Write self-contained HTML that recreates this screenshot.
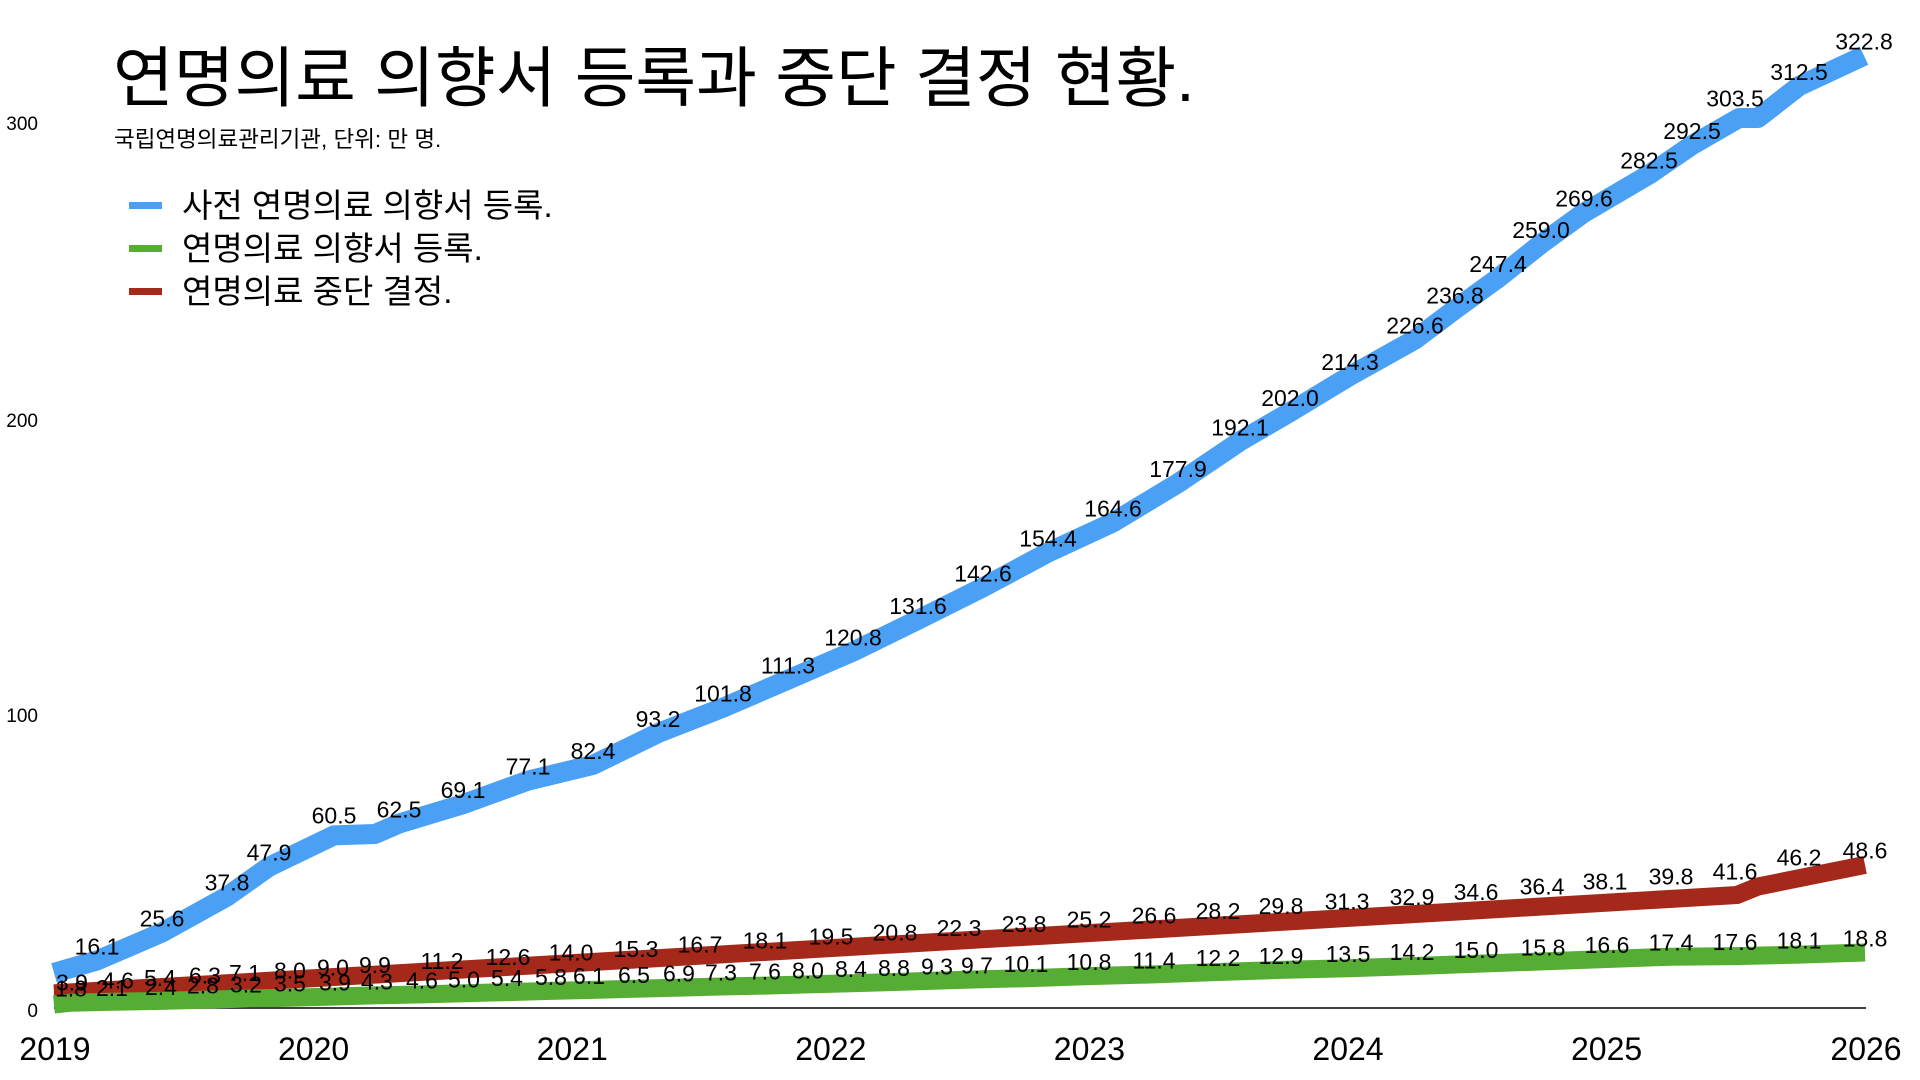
<!DOCTYPE html>
<html><head><meta charset="utf-8"><style>
html,body{margin:0;padding:0;background:#fff;}
svg{display:block;}
text{font-family:"Liberation Sans","Noto Sans CJK KR",sans-serif;fill:#000;}
</style></head><body>
<svg id="s" width="1920" height="1080" viewBox="0 0 1920 1080" xmlns="http://www.w3.org/2000/svg">
<text x="113" y="101" font-size="66">연명의료 의향서 등록과 중단 결정 현황.</text>
<text x="114" y="147" font-size="22.5">국립연명의료관리기관, 단위: 만 명.</text>
<rect x="129" y="202" width="33" height="7" fill="#4aa0f5"/>
<rect x="129" y="245" width="33" height="7" fill="#55ad33"/>
<rect x="129" y="288" width="33" height="7" fill="#a4291a"/>
<text x="182" y="217" font-size="33">사전 연명의료 의향서 등록.</text>
<text x="182" y="260" font-size="33">연명의료 의향서 등록.</text>
<text x="182" y="303" font-size="33">연명의료 중단 결정.</text>
<text x="38" y="130" font-size="19" text-anchor="end">300</text>
<text x="38" y="427" font-size="19" text-anchor="end">200</text>
<text x="38" y="722" font-size="19" text-anchor="end">100</text>
<text x="38" y="1017" font-size="19" text-anchor="end">0</text>
<line x1="54" y1="1008" x2="1866" y2="1008" stroke="#000" stroke-width="1.5"/>
<g id="g"></g>
</svg>
<script>
var Y=function(v){return 1008-v*2.95;};
var red=[[72,3.9],[118,4.6],[160,5.4],[205,6.3],[245,7.1],[290,8.0],[333,9.0],[375,9.9],[442,11.2],[508,12.6],[571,14.0],[636,15.3],[700,16.7],[765,18.1],[831,19.5],[895,20.8],[959,22.3],[1024,23.8],[1089,25.2],[1154,26.6],[1218,28.2],[1281,29.8],[1347,31.3],[1412,32.9],[1476,34.6],[1542,36.4],[1605,38.1],[1671,39.8],[1735,41.6],[1799,46.2],[1865,48.6]];
var green=[[71,1.8],[112,2.1],[161,2.4],[203,2.8],[246,3.2],[290,3.5],[335,3.9],[377,4.3],[422,4.6],[464,5.0],[507,5.4],[551,5.8],[589,6.1],[634,6.5],[679,6.9],[721,7.3],[765,7.6],[808,8.0],[851,8.4],[894,8.8],[937,9.3],[977,9.7],[1026,10.1],[1089,10.8],[1154,11.4],[1218,12.2],[1281,12.9],[1348,13.5],[1412,14.2],[1476,15.0],[1543,15.8],[1607,16.6],[1671,17.4],[1735,17.6],[1799,18.1],[1865,18.8]];
var blue=[[97,16.1],[162,25.6],[227,37.8],[269,47.9],[334,60.5],[399,62.5],[463,69.1],[528,77.1],[593,82.4],[658,93.2],[723,101.8],[788,111.3],[853,120.8],[918,131.6],[983,142.6],[1048,154.4],[1113,164.6],[1178,177.9],[1240,192.1],[1290,202.0],[1350,214.3],[1415,226.6],[1455,236.8],[1498,247.4],[1541,259.0],[1584,269.6],[1649,282.5],[1692,292.5],[1735,303.5],[1799,312.5],[1864,322.8]];
function poly(pts,color,w){
  return '<polyline fill="none" stroke="'+color+'" stroke-width="'+w+'" stroke-linejoin="round" points="'+pts.map(function(p){return p[0]+','+Y(p[1]).toFixed(1);}).join(' ')+'"/>';
}
function labels(data){
  return data.map(function(d){return '<text x="'+d[0]+'" y="'+(Y(d[1])-6).toFixed(1)+'" font-size="23" text-anchor="middle">'+d[1].toFixed(1)+'</text>';}).join('');
}
var redPts=[[54,5.0],[1281,29.2],[1737,38.3],[1758,41.2],[1865,48.5]];
var greenPts=[[54,1.2]].concat(green);
var bluePts=[[54,11.9]];
blue.forEach(function(d){
  if(d[0]==334){bluePts.push([334,58.5]);bluePts.push([375,59]);}
  else if(d[0]==1735){bluePts.push([1739,301.7]);bluePts.push([1758,301.7]);}
  else bluePts.push(d);
});
var h='';
h+=poly(redPts,'#a4291a',18);
h+=poly(greenPts,'#55ad33',18);
h+=poly(bluePts,'#4aa0f5',20);
h+=labels(red)+labels(green)+labels(blue);
var yrs=['2019','2020','2021','2022','2023','2024','2025','2026'];
for(var i=0;i<8;i++){var x=55+258.6*i; if(i==7)x=1866; h+='<text x="'+x+'" y="1060" font-size="32" text-anchor="middle">'+yrs[i]+'</text>';}
document.getElementById('g').innerHTML=h;
</script>
</body></html>
